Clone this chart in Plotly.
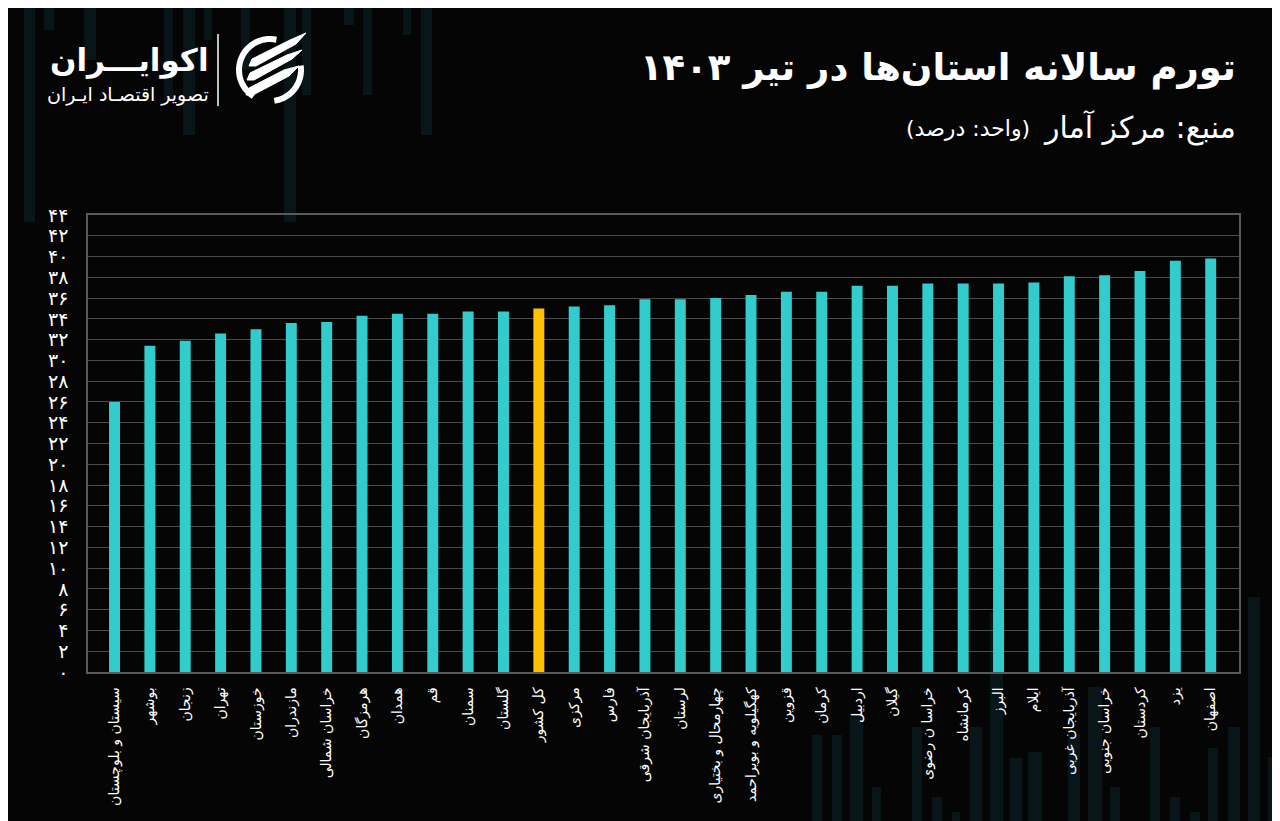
import numpy as np
import plotly.graph_objects as go

# ---------------- data ----------------
provinces = [
    "سیستان و بلوچستان", "بوشهر", "زنجان", "تهران", "خوزستان", "مازندران",
    "خراسان شمالی", "هرمزگان", "همدان", "قم", "سمنان", "گلستان", "کل کشور",
    "مرکزی", "فارس", "آذربایجان شرقی", "لرستان", "چهارمحال و بختیاری",
    "کهگیلویه و بویراحمد", "قزوین", "کرمان", "اردبیل", "گیلان", "خراسا ن رضوی",
    "کرمانشاه", "البرز", "ایلام", "آذربایجان غربی", "خراسان جنوبی", "کردستان",
    "یزد", "اصفهان",
]
inflation = [
    26.0, 31.4, 31.9, 32.6, 33.0, 33.6, 33.7, 34.3, 34.5, 34.5, 34.7, 34.7, 35.0,
    35.2, 35.3, 35.9, 35.9, 36.0, 36.3, 36.6, 36.6, 37.2, 37.2, 37.4,
    37.4, 37.4, 37.5, 38.1, 38.2, 38.6, 39.6, 39.8,
]
highlight = "کل کشور"
y_tickvals = list(range(0, 45, 2))
y_ticktext = ["۰", "۲", "۴", "۶", "۸", "۱۰", "۱۲", "۱۴", "۱۶", "۱۸", "۲۰", "۲۲",
              "۲۴", "۲۶", "۲۸", "۳۰", "۳۲", "۳۴", "۳۶", "۳۸", "۴۰", "۴۲", "۴۴"]

title_text = "تورم سالانه استان\u200cها در تیر ۱۴۰۳"
source_text = "منبع: مرکز آمار"
unit_text = "(واحد: درصد)"
brand_text = "اکوایـــران"
brand_sub = "تصویر اقتصـاد ایـران"

# ---------------- style ----------------
OFF = 8                      # page body margin
W, H = 1280 - OFF, 821 - OFF
ML, MR, MT, MB = 88 - OFF, 41, 215 - OFF, 149
PW, PH = W - ML - MR, H - MT - MB
BG = "#050505"
TEAL = "#33CCCC"
GOLD = "#FFC000"
FONT = "DejaVu Sans"
RLM = "\u200f"


def pp(x, y):
    """screen pixel -> paper coordinates"""
    x, y = x - OFF, y - OFF
    return (x - ML) / PW, (H - MB - y) / PH


colors = [GOLD if p == highlight else TEAL for p in provinces]

fig = go.Figure(go.Bar(
    x=provinces, y=inflation, marker=dict(color=colors, line=dict(width=0)),
    width=0.31, hoverinfo="x+y",
))

shapes = []
# faint decorative background columns (x0, x1, y_top, y_bottom in screen pixels)
deco_top = [(2, 6, 0, 63), (24, 35, 0, 222), (44, 54, 0, 30), (84, 96, 0, 60),
            (164, 173, 0, 100), (183, 195, 0, 135), (204, 212, 0, 40),
            (241, 250, 0, 70), (284, 296, 0, 222), (302, 311, 0, 95),
            (344, 354, 0, 25), (363, 372, 0, 95), (403, 411, 0, 35),
            (421, 432, 0, 135)]
deco_bot = [(812, 822, 735, 821), (832, 842, 735, 821), (850, 863, 713, 821),
            (872, 881, 787, 821), (912, 922, 727, 821), (932, 942, 797, 821),
            (952, 960, 812, 821), (970, 982, 727, 821), (990, 1003, 612, 821),
            (1010, 1022, 758, 821), (1028, 1042, 752, 821), (1068, 1080, 735, 821),
            (1088, 1102, 687, 821), (1110, 1120, 787, 821), (1150, 1160, 727, 821),
            (1170, 1180, 797, 821), (1190, 1200, 812, 821), (1208, 1218, 748, 821),
            (1228, 1240, 727, 821), (1248, 1260, 597, 821), (1268, 1278, 757, 821)]
for x0, x1, y0, y1 in deco_top + deco_bot:
    a0 = pp(x0, y1)
    a1 = pp(x1, y0)
    shapes.append(dict(type="rect", xref="paper", yref="paper", x0=a0[0], x1=a1[0],
                       y0=a0[1], y1=a1[1], fillcolor="rgba(25,85,105,0.22)",
                       line=dict(width=0), layer="below"))

# logo: separator line
s0, s1 = pp(218, 34), pp(218, 106)
shapes.append(dict(type="line", xref="paper", yref="paper", x0=s0[0], x1=s1[0],
                   y0=s0[1], y1=s1[1], line=dict(color="white", width=1.5)))


def arc_path(cx, cy, r, a0, a1, n=30):
    ang = np.radians(np.linspace(a0, a1, n))
    pts = [pp(cx + r * np.cos(a), cy - r * np.sin(a)) for a in ang]
    return "M " + " L ".join(f"{x:.5f},{y:.5f}" for x, y in pts)


def poly_path(points):
    pts = [pp(x, y) for x, y in points]
    return "M " + " L ".join(f"{x:.5f},{y:.5f}" for x, y in pts) + " Z"


# logo icon (approximate)
cx, cy, r = 270, 70, 31
for a0, a1 in [(78, 238), (278, 368)]:
    shapes.append(dict(type="path", xref="paper", yref="paper",
                       path=arc_path(cx, cy, r, a0, a1),
                       line=dict(color="white", width=6)))
swooshes = [
    [(249, 66), (252, 59), (290, 40), (306, 33), (296, 44), (256, 66)],
    [(247, 80), (250, 73), (287, 55), (302, 50), (292, 59), (254, 80)],
    [(246, 95), (249, 88), (284, 70), (299, 66), (289, 76), (253, 95)],
]
for sw in swooshes:
    shapes.append(dict(type="path", xref="paper", yref="paper", path=poly_path(sw),
                       fillcolor="white", line=dict(color="white", width=1)))

annotations = []


def add_text(text, x, y, size, bold=False, xanchor="right"):
    px, py = pp(x, y)
    t = f"<b>{text}</b>" if bold else text
    annotations.append(dict(text=RLM + t + RLM, x=px, y=py, xref="paper", yref="paper",
                            xanchor=xanchor, yanchor="middle", showarrow=False,
                            font=dict(family=FONT, size=size, color="white")))


add_text(title_text, 1238, 68, 37, bold=True)
add_text(source_text, 1238, 128, 30)
add_text(unit_text, 1032, 129, 22)
add_text(brand_text, 211, 60, 31, bold=True)
add_text(brand_sub, 211, 94, 19)

fig.update_layout(
    width=W, height=H,
    margin=dict(l=ML, r=MR, t=MT, b=MB, pad=0),
    paper_bgcolor=BG, plot_bgcolor="rgba(0,0,0,0)",
    showlegend=False,
    shapes=shapes, annotations=annotations,
    font=dict(family=FONT, color="white"),
)
fig.update_xaxes(
    type="category", range=[-0.75, 31.8], tickangle=-90,
    tickfont=dict(family=FONT, size=14, color="white"),
    showgrid=False, showline=True, linecolor="#5a5a5a", linewidth=1.5, mirror=True,
    ticks="", ticklabelstandoff=8,
)
fig.update_yaxes(
    range=[0, 44], tickvals=y_tickvals, ticktext=y_ticktext,
    tickfont=dict(family=FONT, size=19, color="white"),
    showgrid=True, gridcolor="#4a4a4a", gridwidth=1,
    showline=True, linecolor="#5a5a5a", linewidth=1.5, mirror=True,
    ticks="", ticklabelstandoff=14, zeroline=False,
)

fig.write_html("out.html")
